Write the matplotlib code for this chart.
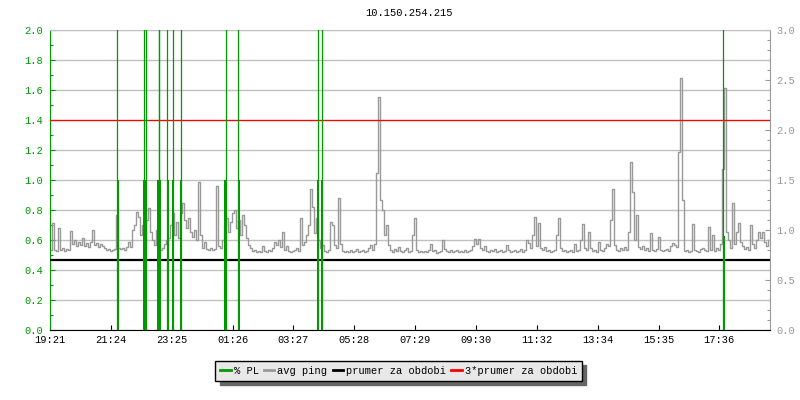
import numpy as np
import matplotlib
matplotlib.use("Agg")
import matplotlib.pyplot as plt
from matplotlib.ticker import MultipleLocator, FormatStrFormatter
from matplotlib.lines import Line2D

plt.rcParams['font.family'] = ['Liberation Mono', 'DejaVu Sans Mono']

title = "10.150.254.215"
time_labels = ["19:21", "21:24", "23:25", "01:26", "03:27", "05:28",
               "07:29", "09:30", "11:32", "13:34", "15:35", "17:36"]
tick_step = 121.7  # minutes between time labels
span = 1440        # minutes shown

# avg ping [ms], one sample every 4 minutes
ping_ms = [
    0.80, 1.07, 0.80, 0.79, 1.02, 0.80, 0.82, 0.79, 0.81, 0.80, 0.99, 0.86, 0.90, 0.84, 0.88,
    0.85, 0.92, 0.84, 0.87, 0.83, 0.88, 1.00, 0.85, 0.87, 0.83, 0.86, 0.84, 0.82, 0.80, 0.81,
    0.79, 0.80, 0.81, 1.15, 0.82, 0.81, 0.82, 0.80, 0.83, 0.88, 0.83, 1.00, 1.05, 1.18, 1.13,
    0.95, 1.05, 0.88, 1.10, 1.22, 0.98, 0.90, 0.85, 1.00, 0.83, 0.80, 0.82, 0.86, 0.90, 0.92,
    1.05, 1.17, 0.95, 1.08, 0.92, 1.17, 1.27, 1.10, 1.02, 1.12, 0.98, 0.93, 1.00, 0.90, 1.48,
    0.95, 0.82, 0.88, 0.81, 0.80, 0.82, 0.80, 0.81, 1.44, 0.84, 0.82, 0.90, 1.05, 1.12, 0.98,
    1.08, 1.17, 1.20, 1.02, 1.10, 0.95, 1.15, 1.05, 0.92, 0.85, 0.82, 0.79, 0.80, 0.78, 0.79,
    0.78, 0.84, 0.79, 0.78, 0.80, 0.79, 0.82, 0.88, 0.85, 0.90, 0.83, 0.98, 0.80, 0.84, 0.79,
    0.78, 0.79, 0.80, 0.82, 0.79, 1.12, 0.85, 0.88, 0.95, 1.05, 1.41, 1.23, 0.97, 1.12, 0.90,
    0.82, 0.85, 0.79, 0.78, 0.80, 1.08, 1.05, 0.85, 0.82, 1.32, 0.86, 0.79, 0.78, 0.79, 0.78,
    0.80, 0.78, 0.79, 0.81, 0.78, 0.79, 0.80, 0.78, 0.79, 0.82, 0.85, 0.80, 0.86, 1.57, 2.33,
    1.30, 1.20, 0.95, 1.05, 0.85, 0.80, 0.78, 0.81, 0.79, 0.83, 0.79, 0.78, 0.80, 0.82, 0.78,
    0.79, 0.95, 1.12, 0.80, 0.78, 0.79, 0.78, 0.79, 0.78, 0.80, 0.86, 0.79, 0.80, 0.77, 0.78,
    0.79, 0.90, 0.81, 0.79, 0.78, 0.80, 0.78, 0.79, 0.80, 0.78, 0.79, 0.78, 0.80, 0.78, 0.79,
    0.80, 0.84, 0.91, 0.86, 0.91, 0.82, 0.80, 0.84, 0.79, 0.78, 0.80, 0.79, 0.81, 0.78, 0.79,
    0.80, 0.78, 0.79, 0.85, 0.80, 0.78, 0.79, 0.80, 0.78, 0.79, 0.81, 0.78, 0.80, 0.90, 0.87,
    0.82, 0.95, 1.13, 0.84, 1.07, 0.82, 0.80, 0.83, 0.79, 0.80, 0.78, 0.79, 0.80, 0.95, 1.12,
    0.82, 0.79, 0.80, 0.78, 0.79, 0.80, 0.78, 0.86, 0.79, 0.80, 0.90, 1.06, 0.82, 0.80, 0.98,
    0.82, 0.79, 0.80, 0.78, 0.88, 0.80, 0.79, 0.82, 0.86, 0.84, 1.10, 1.41, 0.85, 0.80, 0.79,
    0.82, 0.80, 0.83, 0.80, 0.98, 1.68, 1.38, 0.90, 1.15, 0.83, 0.81, 0.84, 0.80, 0.82, 0.79,
    0.97, 0.80, 0.79, 0.81, 0.93, 0.80, 0.79, 0.80, 0.81, 0.79, 0.84, 0.87, 0.85, 0.83, 1.78,
    2.52, 1.30, 0.79, 0.80, 0.78, 0.79, 1.06, 0.80, 0.79, 0.78, 0.81, 0.82, 0.80, 0.79, 1.03,
    0.80, 0.95, 0.79, 0.82, 0.80, 0.86, 1.61, 2.42, 0.98, 0.90, 0.82, 1.27, 0.86, 0.98, 1.07,
    0.88, 0.84, 0.81, 0.83, 0.80, 1.05, 0.86, 0.82, 0.90, 0.98, 0.92, 0.98, 0.88, 0.84, 0.90,
]
ping_step = 4  # minutes
mean_ms = 0.70

# packet loss events [minutes from start], [%]
pl_times = [134.6, 136, 188, 188.6, 192, 192.6, 216, 217, 218.6, 220,
            234.6, 236, 245, 246.6, 261.7, 262, 350, 351.4, 376.6, 378,
            536, 536.6, 543.4, 544, 1346.6, 1348]
pl_values = [5.0, 1.0, 1.0, 5.0, 1.0, 5.0, 1.0, 5.0, 5.0, 1.0,
             5.0, 1.0, 1.0, 5.0, 1.0, 5.0, 1.0, 5.0, 5.0, 1.0,
             1.0, 5.0, 5.0, 1.0, 5.0, 0.63]

green = "#009900"
gray = "#999999"
grid_c = "#c0c0c0"

fig = plt.figure(figsize=(8, 4), dpi=100)
ax1 = fig.add_axes([0.0625, 0.175, 0.9, 0.75])
ax2 = ax1.twinx()
ax1.set_zorder(ax2.get_zorder() + 1)
ax1.patch.set_visible(False)

ax1.set_xlim(0, span)
ax1.set_ylim(0, 2.0)
ax2.set_ylim(0, 3.0)

# grid on left scale
ax1.grid(axis='y', color=grid_c, lw=1.0)
ax1.set_axisbelow(True)

# ping + mean lines on the right (ms) scale
t = np.arange(len(ping_ms)) * ping_step
ax1.plot(t, ping_ms, color=gray, lw=1.0, drawstyle='steps-post',
         transform=ax2.transData, zorder=2)
ax1.plot([0, span - 2], [mean_ms, mean_ms], color='black', lw=1.6,
         transform=ax2.transData, zorder=3)
ax1.plot([0, span - 2], [3 * mean_ms, 3 * mean_ms], color='red', lw=0.9,
         transform=ax2.transData, zorder=3)

# packet loss on the left scale
pl_t = np.array(pl_times)
pl_v = np.array(pl_values)
hi = pl_v > 2
ax1.vlines(pl_t[hi], 0, pl_v[hi], color=green, lw=0.9, zorder=4)
ax1.bar(pl_t[~hi], pl_v[~hi], width=4, color=green, lw=0, zorder=4)

# axes styling
ax1.spines['right'].set_visible(False)
ax1.spines['top'].set_color(grid_c)
ax1.spines['left'].set_color(green)
ax1.spines['bottom'].set_color('black')
for s in ['left', 'top', 'bottom']:
    ax2.spines[s].set_visible(False)
ax2.spines['right'].set_color(gray)

ax1.yaxis.set_major_locator(MultipleLocator(0.2))
ax1.yaxis.set_minor_locator(MultipleLocator(0.1))
ax1.yaxis.set_major_formatter(FormatStrFormatter('%.1f'))
ax1.tick_params(axis='y', which='both', direction='in', colors=green, labelsize=7.5, pad=5)
ax1.tick_params(axis='y', which='major', length=3.6, width=0.8)
ax1.tick_params(axis='y', which='minor', length=2.2, width=0.8)

ax2.yaxis.set_major_locator(MultipleLocator(0.5))
ax2.yaxis.set_minor_locator(MultipleLocator(0.1))
ax2.yaxis.set_major_formatter(FormatStrFormatter('%.1f'))
ax2.tick_params(axis='y', which='both', direction='in', colors=gray, labelsize=7.5, pad=4.5)
ax2.tick_params(axis='y', which='major', length=3.6, width=0.8)
ax2.tick_params(axis='y', which='minor', length=2.2, width=0.8)

ax1.set_xticks(np.arange(len(time_labels)) * tick_step, time_labels)
ax1.tick_params(axis='x', direction='in', length=3.6, width=0.8, labelsize=7.5, pad=3.5)

fig.text(0.511, 0.968, title, ha='center', va='center', fontsize=7.5)

handles = [Line2D([], [], color=green, lw=2),
           Line2D([], [], color=gray, lw=2),
           Line2D([], [], color='black', lw=2),
           Line2D([], [], color='red', lw=2)]
labels = ["% PL", "avg ping", "prumer za obdobi", "3*prumer za obdobi"]
leg = fig.legend(handles, labels, loc='center', bbox_to_anchor=(0.4985, 0.0725),
                 ncol=4, fontsize=7.5, handlelength=1.0, handletextpad=0.3,
                 columnspacing=0.5, borderpad=0.45, fancybox=False,
                 framealpha=1, facecolor='#e8e8e8', edgecolor='black',
                 shadow={'ox': 3, 'oy': -3, 'color': '#666666', 'alpha': 1})
leg.get_frame().set_linewidth(1.0)

fig.savefig("out.png", dpi=100)
